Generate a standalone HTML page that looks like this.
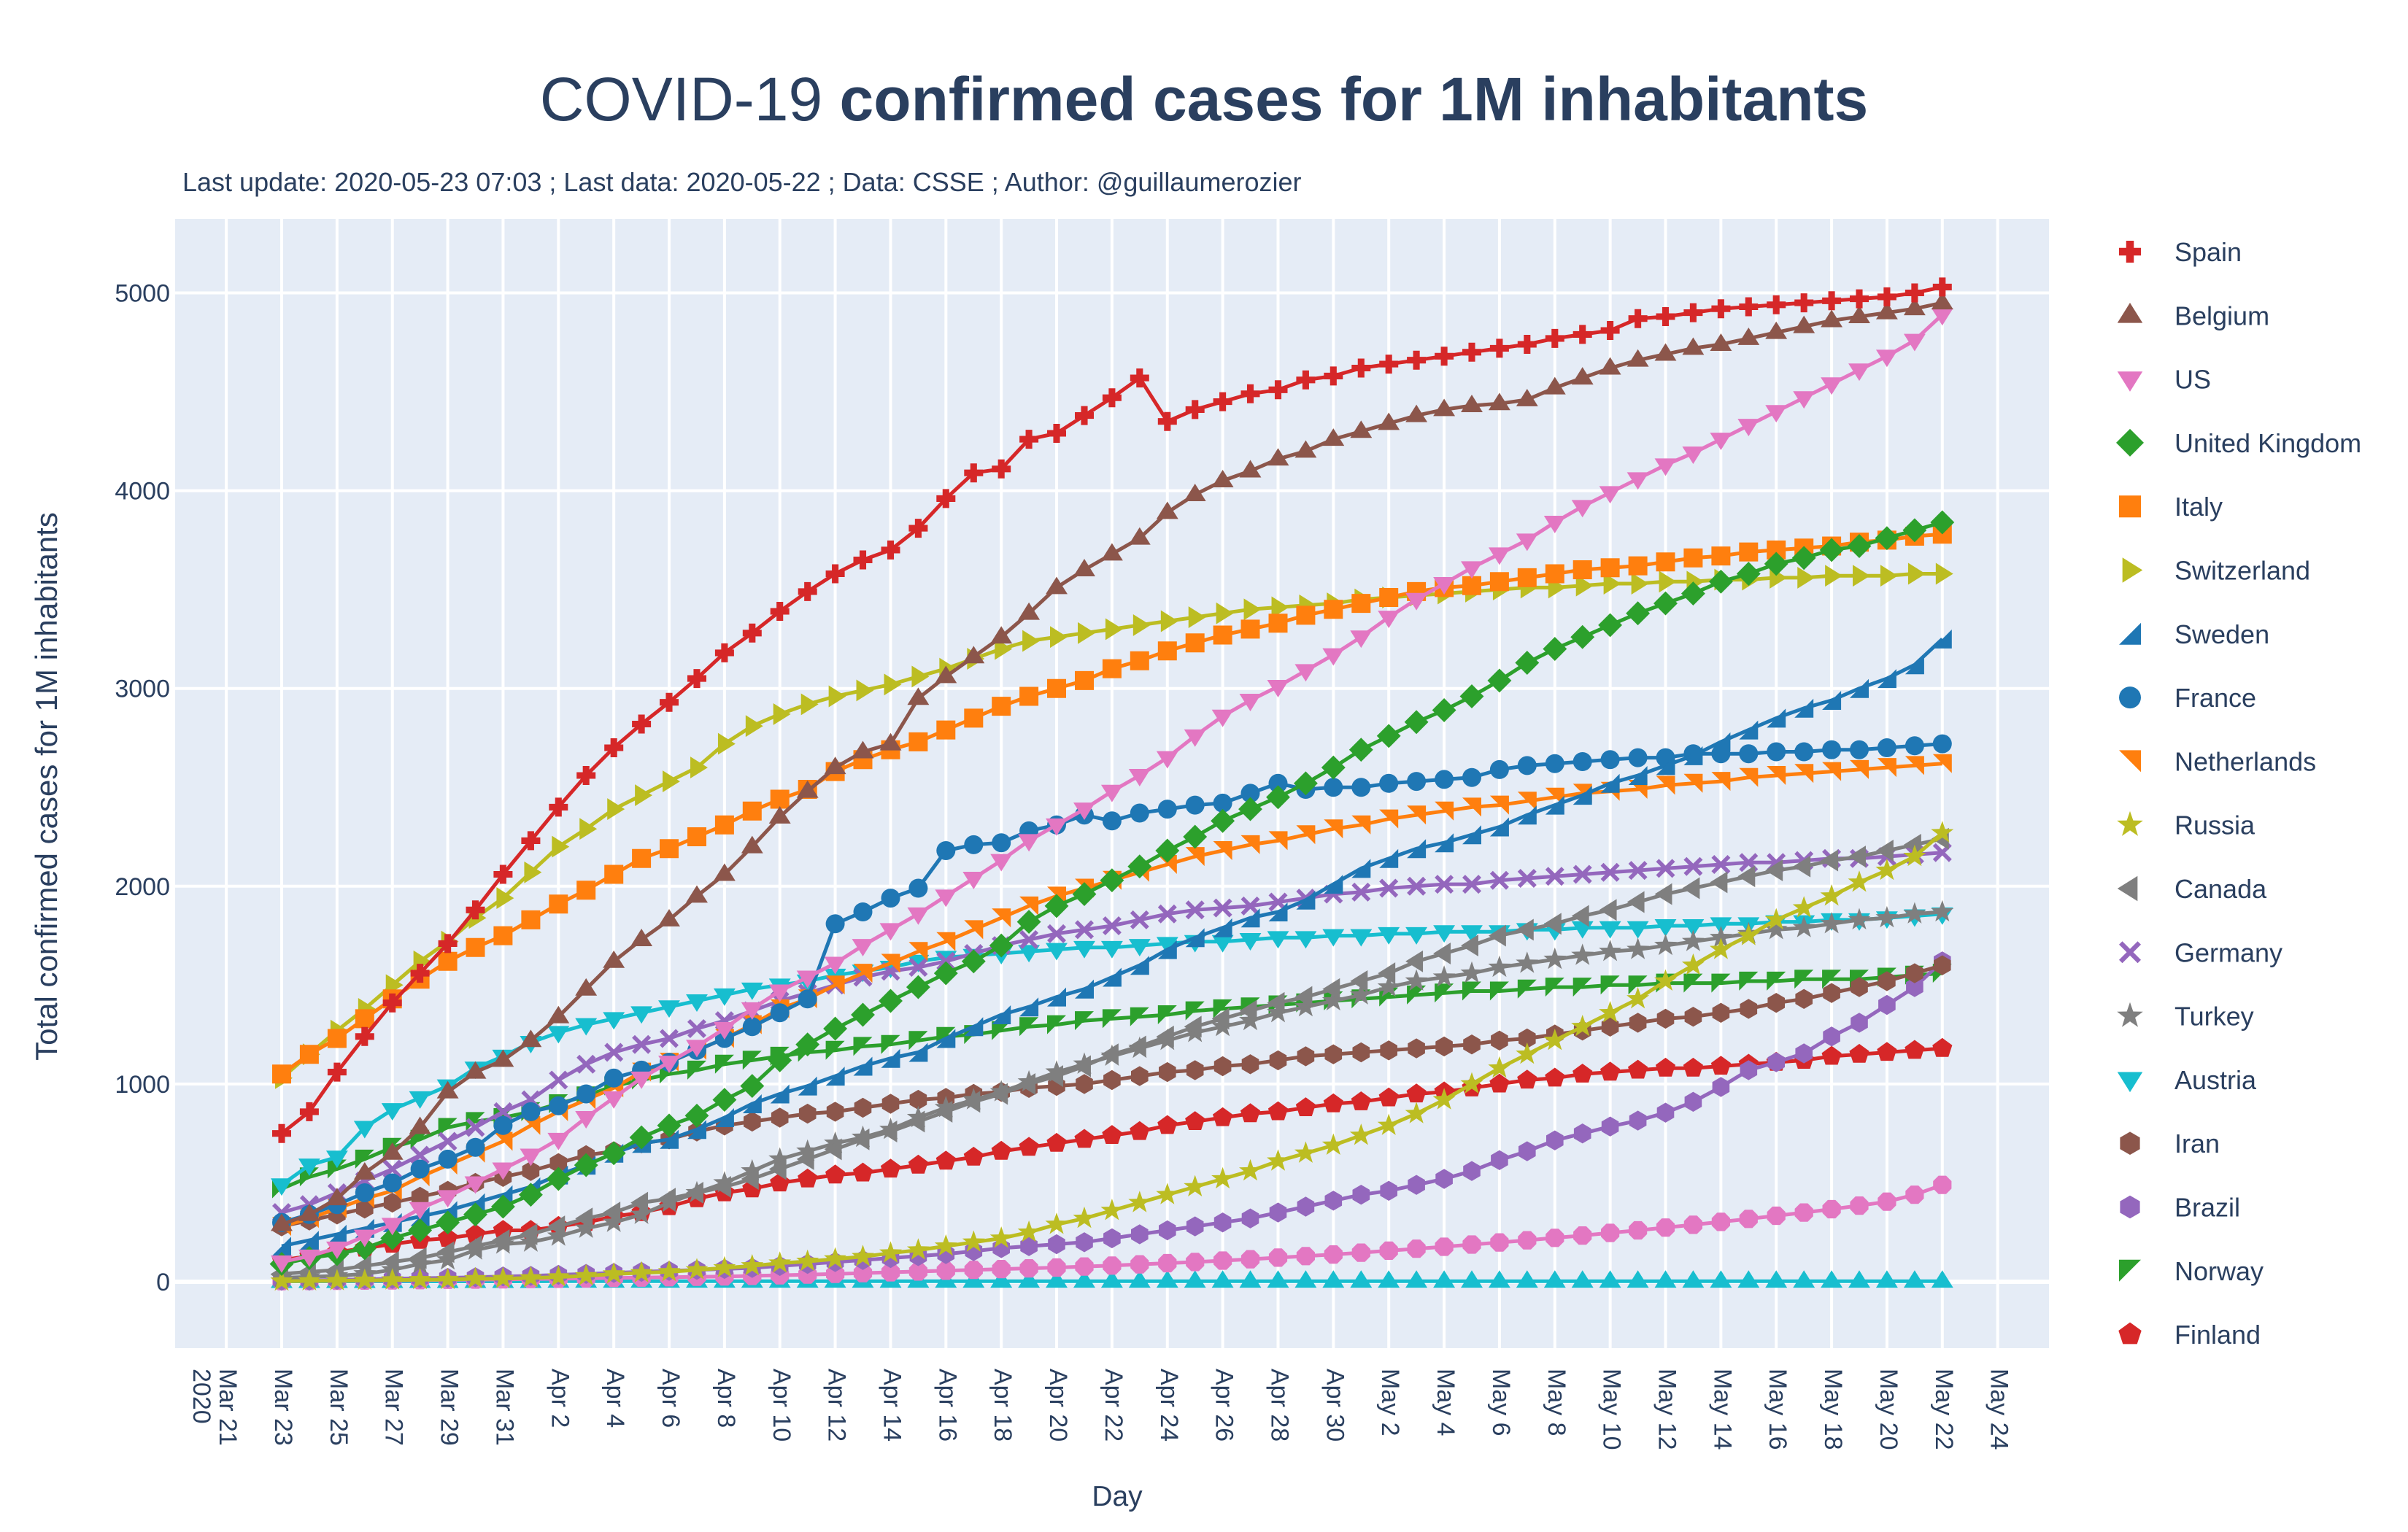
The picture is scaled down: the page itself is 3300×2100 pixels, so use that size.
<!DOCTYPE html>
<html><head><meta charset="utf-8"><style>
html,body{margin:0;padding:0;background:#fff;}
svg{display:block;font-family:"Liberation Sans",sans-serif;}
</style></head><body>
<svg id="chart" width="3300" height="2100" viewBox="0 0 3300 2100" xmlns="http://www.w3.org/2000/svg">
<rect x="0" y="0" width="3300" height="2100" fill="#fff"/>
<rect x="240" y="300" width="2568" height="1548" fill="#e5ecf6"/>
<g id="grid"></g><g id="series"></g><g id="axes"></g><g id="legend"></g>
<text x="1650" y="165" text-anchor="middle" font-size="84" fill="#2a3f5f">COVID-19 <tspan font-weight="bold">confirmed cases for 1M inhabitants</tspan></text>
<text x="250" y="262" font-size="36" fill="#2a3f5f">Last update: 2020-05-23 07:03 ; Last data: 2020-05-22 ; Data: CSSE ; Author: @guillaumerozier</text>
<text transform="translate(78,1078) rotate(-90)" text-anchor="middle" font-size="42" fill="#2a3f5f">Total confirmed cases  for 1M inhabitants</text>
<text x="1531" y="2064" text-anchor="middle" font-size="39" fill="#2a3f5f">Day</text>
</svg>
<script>
const dayLabels=["Mar 21","Mar 23","Mar 25","Mar 27","Mar 29","Mar 31","Apr 2","Apr 4","Apr 6","Apr 8","Apr 10","Apr 12","Apr 14","Apr 16","Apr 18","Apr 20","Apr 22","Apr 24","Apr 26","Apr 28","Apr 30","May 2","May 4","May 6","May 8","May 10","May 12","May 14","May 16","May 18","May 20","May 22","May 24"];
const yTicks=[0,1000,2000,3000,4000,5000];
const countries=["Spain","Belgium","US","United Kingdom","Italy","Switzerland","Sweden","France","Netherlands","Russia","Canada","Germany","Turkey","Austria","Iran","Brazil","Norway","Finland"];
const spain=[750,860,1060,1240,1410,1560,1710,1880,2060,2230,2400,2560,2700,2820,2930,3050,3180,3280,3390,3490,3580,3650,3700,3810,3960,4090,4110,4260,4290,4380,4470,4570,4350,4410,4450,4490,4510,4560,4580,4620,4640,4660,4680,4700,4720,4740,4770,4790,4810,4870,4880,4900,4920,4930,4940,4950,4960,4970,4980,5000,5030];
const belgium=[290,340,420,550,650,780,960,1060,1120,1220,1340,1480,1620,1730,1830,1950,2060,2200,2350,2480,2600,2680,2720,2950,3060,3160,3260,3380,3510,3600,3680,3760,3890,3980,4050,4100,4160,4200,4260,4300,4340,4380,4410,4430,4440,4460,4520,4570,4620,4660,4690,4720,4740,4770,4800,4830,4860,4880,4900,4920,4950];
const us=[100,130,170,230,290,370,430,500,570,640,720,830,930,1030,1110,1190,1280,1380,1470,1540,1610,1700,1780,1860,1950,2040,2130,2230,2310,2390,2480,2560,2650,2760,2860,2940,3010,3090,3170,3260,3360,3450,3530,3610,3680,3750,3840,3920,3990,4060,4130,4190,4260,4330,4400,4470,4540,4610,4680,4760,4890];
const uk=[90,120,140,170,220,260,300,340,380,440,520,590,650,730,790,840,920,990,1120,1200,1280,1350,1420,1490,1560,1620,1700,1820,1900,1960,2030,2100,2180,2250,2330,2390,2450,2520,2600,2690,2760,2830,2890,2960,3040,3130,3200,3260,3320,3380,3430,3480,3540,3580,3630,3660,3700,3720,3760,3800,3840];
const italy=[1050,1150,1230,1330,1430,1530,1620,1690,1750,1830,1910,1980,2060,2140,2190,2250,2310,2380,2440,2490,2580,2640,2690,2730,2790,2850,2910,2960,3000,3040,3100,3140,3190,3230,3270,3300,3330,3370,3400,3430,3460,3490,3510,3520,3540,3560,3580,3600,3610,3620,3640,3660,3670,3690,3700,3710,3720,3740,3750,3770,3780];
const switzerland=[1030,1150,1270,1380,1500,1620,1720,1840,1940,2070,2200,2290,2390,2460,2530,2600,2720,2810,2870,2920,2960,2990,3020,3060,3100,3150,3200,3240,3260,3280,3300,3320,3340,3360,3380,3400,3410,3420,3430,3450,3460,3470,3480,3490,3500,3510,3510,3520,3530,3530,3540,3540,3550,3550,3560,3560,3570,3570,3570,3580,3580];
const sweden=[180,210,240,270,300,330,360,400,440,480,540,590,650,700,720,770,830,900,950,990,1040,1090,1130,1160,1230,1290,1350,1390,1440,1480,1540,1600,1680,1740,1790,1840,1870,1930,2010,2090,2140,2190,2220,2260,2300,2360,2410,2460,2520,2560,2610,2660,2730,2790,2850,2900,2940,3000,3050,3120,3250];
const france=[300,340,390,450,500,570,620,680,790,860,890,950,1030,1070,1110,1170,1230,1290,1360,1430,1810,1870,1940,1990,2180,2210,2220,2280,2310,2360,2330,2370,2390,2410,2420,2470,2520,2490,2500,2500,2520,2530,2540,2550,2590,2610,2620,2630,2640,2650,2650,2670,2670,2670,2680,2680,2690,2690,2700,2710,2720];
const netherlands=[280,320,370,420,460,530,590,650,710,790,860,920,980,1060,1110,1170,1230,1300,1380,1430,1500,1560,1610,1670,1720,1780,1840,1900,1950,1990,2030,2070,2110,2150,2180,2210,2230,2260,2290,2310,2340,2360,2380,2400,2410,2430,2450,2470,2480,2490,2510,2520,2530,2550,2560,2570,2580,2590,2600,2610,2620];
const russia=[3,4,5,7,9,10,11,15,16,19,24,30,39,45,50,60,70,80,94,103,115,127,145,160,180,200,220,250,290,320,360,400,440,480,520,560,610,650,690,740,790,850,920,1000,1080,1150,1220,1290,1360,1430,1520,1600,1680,1750,1830,1890,1950,2020,2080,2150,2270];
const canada=[40,50,60,80,100,120,150,180,210,240,280,320,350,400,420,450,480,520,570,620,670,720,760,810,860,910,950,1000,1040,1090,1150,1190,1240,1290,1330,1370,1410,1440,1480,1520,1560,1620,1660,1700,1750,1780,1810,1850,1880,1920,1960,1990,2020,2050,2080,2100,2130,2150,2180,2210,2240];
const germany=[350,390,450,510,570,640,710,780,860,920,1020,1100,1160,1200,1230,1280,1320,1370,1420,1460,1500,1540,1570,1590,1620,1660,1700,1730,1760,1780,1800,1830,1860,1880,1890,1900,1920,1940,1960,1970,1990,2000,2010,2010,2030,2040,2050,2060,2070,2080,2090,2100,2110,2120,2120,2130,2140,2140,2150,2160,2170];
const turkey=[20,25,30,40,60,90,110,160,190,200,230,270,300,340,400,450,500,560,620,660,700,730,770,830,880,920,960,1010,1060,1100,1140,1180,1220,1260,1290,1320,1360,1390,1420,1450,1490,1520,1540,1560,1590,1610,1630,1650,1670,1680,1700,1720,1740,1760,1780,1790,1810,1830,1840,1860,1870];
const austria=[490,590,630,780,870,930,990,1080,1140,1210,1260,1300,1330,1360,1390,1420,1450,1480,1500,1520,1550,1570,1590,1620,1640,1650,1660,1670,1680,1690,1690,1700,1710,1720,1720,1730,1740,1740,1750,1750,1760,1760,1770,1770,1770,1780,1780,1790,1790,1790,1800,1800,1810,1810,1820,1820,1830,1830,1840,1850,1860];
const iran=[280,310,340,370,400,430,460,500,530,560,600,640,660,700,720,760,790,810,830,850,860,880,900,920,930,950,960,980,990,1000,1020,1040,1060,1070,1090,1100,1120,1140,1150,1160,1170,1180,1190,1200,1220,1230,1250,1270,1290,1310,1330,1340,1360,1380,1410,1430,1460,1490,1520,1560,1600];
const brazil=[5,6,10,12,15,18,20,23,27,30,35,40,45,50,55,60,65,70,80,90,100,110,120,130,140,155,170,180,190,200,220,240,260,280,300,320,350,380,410,440,460,490,520,560,615,660,715,750,785,815,855,910,985,1070,1110,1155,1240,1310,1400,1490,1620];
const norway=[470,530,570,620,680,720,780,810,830,860,900,940,990,1020,1050,1070,1100,1120,1140,1160,1170,1190,1200,1220,1240,1250,1270,1290,1300,1320,1330,1340,1350,1370,1380,1390,1400,1410,1420,1430,1440,1450,1460,1470,1470,1480,1490,1490,1500,1500,1510,1510,1510,1520,1520,1530,1530,1530,1540,1550,1560];
const finland=[110,130,150,170,190,210,220,240,260,260,280,300,330,350,380,420,450,470,500,520,540,550,570,590,610,630,660,680,700,720,740,760,790,810,830,850,860,880,900,910,930,950,960,980,1000,1020,1030,1050,1060,1070,1080,1080,1090,1100,1110,1120,1140,1150,1160,1170,1180];
const otherPink=[3,4,5,6,7,8,10,11,12,14,15,17,19,21,23,25,27,30,33,36,40,44,48,52,56,60,64,68,72,77,82,88,94,100,107,114,122,130,138,147,157,167,177,188,199,210,222,234,247,260,274,288,303,318,334,350,367,385,405,440,490];
const otherCyan=[2,2,2,2,2,2,2,2,2,2,3,3,3,3,3,3,3,3,3,3,3,3,3,3,3,3,3,3,3,3,3,3,3,3,3,3,3,3,3,3,3,3,3,3,3,3,3,3,3,3,3,3,3,3,3,3,3,3,3,3,3];

const NS="http://www.w3.org/2000/svg";
const X0=386, DX=37.93, Y0=1757, KY=0.2711;
function xs(i){return X0+i*DX;}
function ys(v){return Y0-v*KY;}
function el(tag,attrs,parent){const e=document.createElementNS(NS,tag);for(const k in attrs)e.setAttribute(k,attrs[k]);parent.appendChild(e);return e;}
function poly(n,r,rot){let p=[];for(let k=0;k<n;k++){const a=rot+k*2*Math.PI/n;p.push((r*Math.cos(a)).toFixed(1)+","+(r*Math.sin(a)).toFixed(1));}return "M"+p.join("L")+"Z";}
function shape(sym,r){
 const t=r*1.15;
 switch(sym){
  case "cross":{const a=r*0.35;return `M${-a},${-r}H${a}V${-a}H${r}V${a}H${a}V${r}H${-a}V${a}H${-r}V${-a}H${-a}Z`;}
  case "x":{const a=r*0.3;return `M0,${-a}L${r-a},${-r}L${r},${-r+a}L${a},0L${r},${r-a}L${r-a},${r}L0,${a}L${-r+a},${r}L${-r},${r-a}L${-a},0L${-r},${-r+a}L${-r+a},${-r}Z`;}
  case "tu":return `M0,${-t}L${t},${t*0.6}L${-t},${t*0.6}Z`;
  case "td":return `M0,${t}L${t},${-t*0.6}L${-t},${-t*0.6}Z`;
  case "tr":return `M${t},0L${-t*0.6},${t}L${-t*0.6},${-t}Z`;
  case "tl":return `M${-t},0L${t*0.6},${t}L${t*0.6},${-t}Z`;
  case "tne":return `M${r},${-r}L${r},${r}L${-r},${r}Z`;
  case "tse":return `M${r},${r}L${r},${-r}L${-r},${-r}Z`;
  case "tsw":return `M${-r},${r}L${-r},${-r}L${r},${-r}Z`;
  case "diamond":return `M0,${-t*1.1}L${t*1.1},0L0,${t*1.1}L${-t*1.1},0Z`;
  case "square":return `M${-r},${-r}H${r}V${r}H${-r}Z`;
  case "circle":return `M${-r},0A${r},${r} 0 1,0 ${r},0A${r},${r} 0 1,0 ${-r},0Z`;
  case "hex":return poly(6,r*1.05,Math.PI/6);
  case "hexv":return poly(6,r*1.05,-Math.PI/2);
  case "pent":return poly(5,r*1.1,-Math.PI/2);
  case "oct":return poly(8,r*1.05,Math.PI/8);
  case "star":{let p=[];for(let k=0;k<10;k++){const a=-Math.PI/2+k*Math.PI/5;const rr=k%2?r*0.5:r*1.25;p.push((rr*Math.cos(a)).toFixed(1)+","+(rr*Math.sin(a)).toFixed(1));}return "M"+p.join("L")+"Z";}
 }
}
const C={blue:"#1f77b4",orange:"#ff7f0e",green:"#2ca02c",red:"#d62728",purple:"#9467bd",brown:"#8c564b",pink:"#e377c2",gray:"#7f7f7f",olive:"#bcbd22",cyan:"#17becf"};
const seriesDefs=[
 {name:"Spain",vals:spain,col:C.red,sym:"cross"},
 {name:"Belgium",vals:belgium,col:C.brown,sym:"tu"},
 {name:"US",vals:us,col:C.pink,sym:"td"},
 {name:"United Kingdom",vals:uk,col:C.green,sym:"diamond"},
 {name:"Italy",vals:italy,col:C.orange,sym:"square"},
 {name:"Switzerland",vals:switzerland,col:C.olive,sym:"tr"},
 {name:"Sweden",vals:sweden,col:C.blue,sym:"tne"},
 {name:"France",vals:france,col:C.blue,sym:"circle"},
 {name:"Netherlands",vals:netherlands,col:C.orange,sym:"tse"},
 {name:"Russia",vals:russia,col:C.olive,sym:"star"},
 {name:"Canada",vals:canada,col:C.gray,sym:"tl"},
 {name:"Germany",vals:germany,col:C.purple,sym:"x"},
 {name:"Turkey",vals:turkey,col:C.gray,sym:"star"},
 {name:"Austria",vals:austria,col:C.cyan,sym:"td"},
 {name:"Iran",vals:iran,col:C.brown,sym:"hex"},
 {name:"Brazil",vals:brazil,col:C.purple,sym:"hexv"},
 {name:"Norway",vals:norway,col:C.green,sym:"tsw"},
 {name:"Finland",vals:finland,col:C.red,sym:"pent"},
 {name:"Other-pink",vals:otherPink,col:C.pink,sym:"oct",hidden:true},
 {name:"Other-cyan",vals:otherCyan,col:C.cyan,sym:"tu",hidden:true}
];
const grid=document.getElementById("grid");
const axes=document.getElementById("axes");
dayLabels.forEach((lab,k)=>{
 const x=xs(-2+k*2);
 const g=el("line",{x1:x,x2:x,y1:300,y2:1848,stroke:"#fff","stroke-width":4},grid);
 
 
 const t=el("text",{transform:`translate(${x},1876) rotate(90)`,"font-size":34,fill:"#2a3f5f","dominant-baseline":"middle"},axes);
 t.textContent=lab;
 
 
});
const yr=el("text",{transform:`translate(274,1876) rotate(90)`,"font-size":34,fill:"#2a3f5f","dominant-baseline":"middle"},axes);
yr.textContent="2020";


yTicks.forEach(v=>{
 const y=ys(v);
 const g=el("line",{x1:240,x2:2808,y1:y,y2:y,stroke:"#fff","stroke-width":v===0?6:4},grid);
 
 
 const t=el("text",{x:233,y:y+12,"text-anchor":"end","font-size":34,fill:"#2a3f5f"},axes);
 t.textContent=String(v);
 
 
});
const sg=document.getElementById("series");
seriesDefs.slice().reverse().forEach(s=>{
 const g=el("g",{},sg);
 
 
 const pts=s.vals.map((v,i)=>xs(i).toFixed(1)+","+ys(v).toFixed(1)).join(" ");
 const pl=el("polyline",{points:pts,fill:"none",stroke:s.col,"stroke-width":5,"stroke-linejoin":"round"},g);
 
 
 const d=shape(s.sym,13);
 s.vals.forEach((v,i)=>{
  const m=el("path",{d:d,transform:`translate(${xs(i).toFixed(1)},${ys(v).toFixed(1)})`,fill:s.col},g);
  
  
 });
});
const lg=document.getElementById("legend");
seriesDefs.filter(s=>!s.hidden).forEach((s,k)=>{
 const y=345+k*87.3;
 const g=el("g",{},lg);
 
 
 const m=el("path",{d:shape(s.sym,15),transform:`translate(2919,${y})`,fill:s.col},g);
 
 
 const t=el("text",{x:2980,y:y+13,"font-size":36,fill:"#2a3f5f"},g);
 t.textContent=s.name;
 
 
});
</script>
</body></html>
